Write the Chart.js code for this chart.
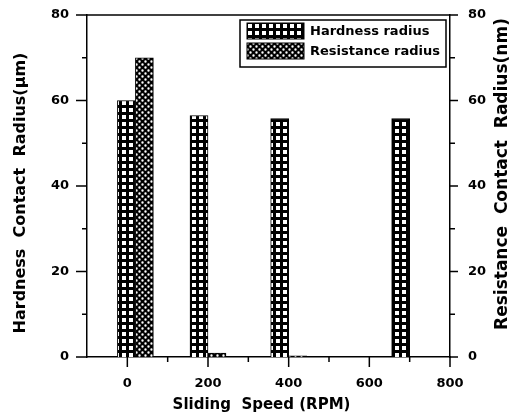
<!DOCTYPE html>
<html>
<head>
<meta charset="utf-8">
<script src="https://cdn.jsdelivr.net/npm/chart.js@4"></script>
<style>
  html, body { margin: 0; padding: 0; background: #fff; }
</style>
</head>
<body>
<canvas id="chart" width="516" height="417"></canvas>
<script>
// data
const speeds = [20, 200, 400, 700];           // RPM
const hardnessRadius = [60, 56.5, 55.8, 55.8]; // um
const resistanceRadius = [70, 0.9, 0.3, 0];    // nm
const seriesNames = ["Hardness radius", "Resistance radius"];

// axis ticks
const xMajor = [0, 200, 400, 600, 800];
const xMinor = [100, 300, 500, 700];
const yMajor = [0, 20, 40, 60, 80];
const yMinor = [10, 30, 50, 70];

const xTitle = "Sliding  Speed (RPM)";
const yTitle = "Hardness  Contact  Radius(\u03bcm)";
const y2Title = "Resistance  Contact  Radius(nm)";

const FONT = "DejaVu Sans";

// fill patterns
function gridPattern() {
    const c = document.createElement("canvas");
    c.width = 7; c.height = 7;
    const g = c.getContext("2d");
    g.fillStyle = "#000";
    g.fillRect(0, 0, 7, 7);
    g.fillStyle = "#fff";
    g.fillRect(3, 3, 4, 4);
    return g.createPattern(c, "repeat");
}

function dotPattern() {
    const c = document.createElement("canvas");
    c.width = 6; c.height = 6;
    const g = c.getContext("2d");
    g.fillStyle = "#000";
    g.fillRect(0, 0, 6, 6);
    g.fillStyle = "#fff";
    g.beginPath();
    g.arc(1.5, 1.5, 1.2, 0, Math.PI * 2);
    g.arc(4.5, 4.5, 1.2, 0, Math.PI * 2);
    g.fill();
    return g.createPattern(c, "repeat");
}

const hardFill = gridPattern();
const resFill = dotPattern();

// short/long tick marks, top frame, axis titles and boxed legend
const decor = {
    id: "decor",
    afterDraw(chart) {
        const { ctx, chartArea: a, scales, width, height } = chart;
        ctx.save();
        ctx.strokeStyle = "#000";
        ctx.lineWidth = 1.5;
        ctx.beginPath();
        ctx.moveTo(a.left, a.top);
        ctx.lineTo(a.right, a.top);
        ctx.stroke();

        ctx.beginPath();
        xMajor.forEach(v => {
            const px = scales.x.getPixelForValue(v);
            ctx.moveTo(px, a.bottom); ctx.lineTo(px, a.bottom + 10);
        });
        xMinor.forEach(v => {
            const px = scales.x.getPixelForValue(v);
            ctx.moveTo(px, a.bottom); ctx.lineTo(px, a.bottom + 5);
        });
        yMajor.forEach(v => {
            const py = scales.y.getPixelForValue(v);
            ctx.moveTo(a.left, py); ctx.lineTo(a.left - 11, py);
            ctx.moveTo(a.right, py); ctx.lineTo(a.right + 8, py);
        });
        yMinor.forEach(v => {
            const py = scales.y.getPixelForValue(v);
            ctx.moveTo(a.left, py); ctx.lineTo(a.left - 5, py);
            ctx.moveTo(a.right, py); ctx.lineTo(a.right + 5, py);
        });
        ctx.stroke();

        // axis titles
        ctx.fillStyle = "#000";
        ctx.textAlign = "center";
        ctx.textBaseline = "middle";
        ctx.font = "bold 15px " + FONT;
        ctx.fillText(xTitle, (a.left + a.right) / 2 - 7, height - 12);

        ctx.save();
        ctx.translate(21, (a.top + a.bottom) / 2 + 7);
        ctx.rotate(-Math.PI / 2);
        ctx.font = "bold 16px " + FONT;
        ctx.fillText(yTitle, 0, 0);
        ctx.restore();

        ctx.save();
        ctx.translate(width - 13, (a.top + a.bottom) / 2 - 12);
        ctx.rotate(-Math.PI / 2);
        ctx.font = "bold 17px " + FONT;
        ctx.fillText(y2Title, 0, 0);
        ctx.restore();

        // legend
        const bx = a.right - 210, by = a.top + 5, bw = 206, bh = 47;
        ctx.lineWidth = 1.5;
        ctx.strokeRect(bx, by, bw, bh);
        const fills = [hardFill, resFill];
        ctx.font = "bold 13px " + FONT;
        ctx.textAlign = "left";
        seriesNames.forEach((name, i) => {
            const sy = by + 3 + i * 20;
            ctx.fillStyle = fills[i];
            ctx.fillRect(bx + 7, sy, 57, 16);
            ctx.lineWidth = 1;
            ctx.strokeRect(bx + 7, sy, 57, 16);
            ctx.fillStyle = "#000";
            ctx.fillText(name, bx + 70, sy + 8.5);
        });
        ctx.restore();
    }
};

const tickFont = { family: FONT, size: 13, weight: "bold" };
const noGrid = { display: false, drawTicks: false };

function fixWidth(w) {
    return s => {
        s.width = w;
        s.paddingTop = 0;
        s.paddingBottom = 0;
    };
}

new Chart(document.getElementById("chart"), {
    type: "bar",
    data: {
        datasets: [
            {
                label: seriesNames[0],
                data: speeds.map((s, i) => ({ x: s, y: hardnessRadius[i] })),
                backgroundColor: hardFill,
                borderColor: "#000",
                borderWidth: 1,
                barThickness: 18,
                yAxisID: "y",
            },
            {
                label: seriesNames[1],
                data: speeds.map((s, i) => ({ x: s, y: resistanceRadius[i] })),
                backgroundColor: resFill,
                borderColor: "#000",
                borderWidth: 1,
                barThickness: 18,
                yAxisID: "y2",
            },
        ],
    },
    options: {
        responsive: false,
        animation: false,
        devicePixelRatio: 1,
        layout: { padding: { top: 15, left: 0, right: 0, bottom: 0 } },
        plugins: {
            legend: { display: false },
            tooltip: { enabled: false },
        },
        scales: {
            x: {
                type: "linear",
                min: -100,
                max: 800,
                offset: false,
                grid: noGrid,
                border: { color: "#000", width: 1.5 },
                ticks: {
                    stepSize: 100,
                    autoSkip: false,
                    color: "#000",
                    font: tickFont,
                    padding: 19,
                    maxRotation: 0,
                    callback: v => (xMajor.includes(v) ? v : ""),
                },
                afterFit: s => {
                    s.height = 60;
                    s.paddingLeft = 0;
                    s.paddingRight = 0;
                },
            },
            y: {
                position: "left",
                min: 0,
                max: 80,
                grid: noGrid,
                border: { color: "#000", width: 1.5 },
                ticks: {
                    stepSize: 20,
                    color: "#000",
                    font: tickFont,
                    padding: 18,
                },
                afterFit: fixWidth(87),
            },
            y2: {
                position: "right",
                min: 0,
                max: 80,
                grid: noGrid,
                border: { color: "#000", width: 1.5 },
                ticks: {
                    stepSize: 20,
                    color: "#000",
                    font: tickFont,
                    padding: 18,
                },
                afterFit: fixWidth(66),
            },
        },
    },
    plugins: [decor],
});
</script>
</body>
</html>
